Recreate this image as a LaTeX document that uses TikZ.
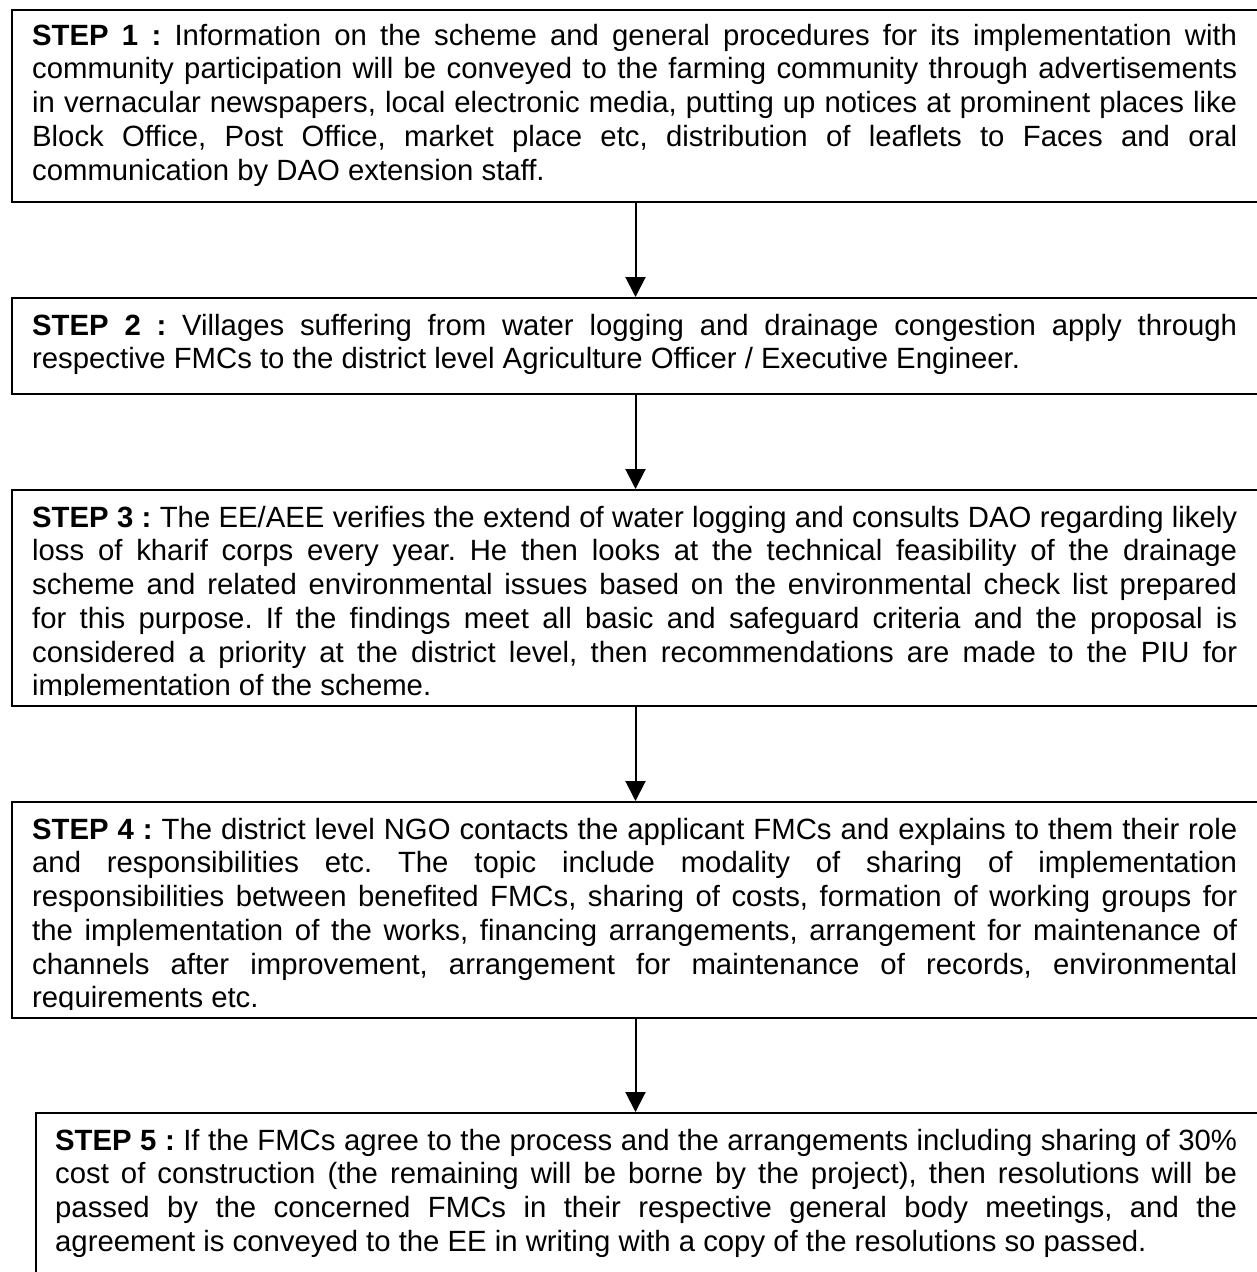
\documentclass[tikz,border=0pt]{standalone}
\usepackage{fontspec}
\setmainfont{Liberation Sans}
\usetikzlibrary{arrows.meta}
\usetikzlibrary{positioning}

\hyphenpenalty=10000
\tolerance=10000
\frenchspacing

\newcommand{\steplabel}[1]{\textbf{STEP #1 :}}

\tikzset{
  stepbox/.style={draw, line width=2pt, anchor=north west, inner sep=0pt},
  steptext/.style={anchor=base west, inner sep=0pt, align=justify, font=\fontsize{29.3}{33.75}\selectfont\frenchspacing},
  flow/.style={-{Triangle[length=20pt,width=20pt]}, line width=2pt}
}

\begin{document}
\begin{tikzpicture}[x=1pt,y=-1pt]
                \useasboundingbox (0,0) rectangle (1257,1272);

                \node[stepbox, minimum width=1247pt, minimum height=192pt] (box1) at (11,9) {};
                \node[stepbox, minimum width=1247pt, minimum height=96pt] (box2) at (11,297) {};
                \node[stepbox, minimum width=1247pt, minimum height=216pt] (box3) at (11,489) {};
                \node[stepbox, minimum width=1247pt, minimum height=216pt] (box4) at (11,801) {};
                \node[stepbox, minimum width=1240pt, minimum height=180pt] (box5) at (35,1112) {};

                \node[steptext, text width=1205pt] (txt1) at ([shift={(21,36)}]box1.north west) {\steplabel{1} Information on the scheme and general procedures for its implementation with\linebreak community participation will be conveyed to the farming community through advertisements\linebreak in vernacular newspapers, local electronic media, putting up notices at prominent places like\linebreak Block Office, Post Office, market place etc, distribution of leaflets to Faces and oral\linebreak communication by DAO extension staff.};
                \node[steptext, text width=1205pt] (txt2) at ([shift={(21,38)}]box2.north west) {\steplabel{2} Villages suffering from water logging and drainage congestion apply through\linebreak respective FMCs to the district level Agriculture Officer / Executive Engineer.};
                \begin{scope}
                \clip (box3.north west) rectangle ([shift={(0,-12)}]box3.south east);
                \node[steptext, text width=1205pt] (txt3) at ([shift={(21,38)}]box3.north west) {\steplabel{3} The EE/AEE verifies the extend of water logging and consults DAO regarding likely\linebreak loss of kharif corps every year. He then looks at the technical feasibility of the drainage\linebreak scheme and related environmental issues based on the environmental check list prepared\linebreak for this purpose. If the findings meet all basic and safeguard criteria and the proposal is\linebreak considered a priority at the district level, then recommendations are made to the PIU for\linebreak implementation of the scheme.};
                \end{scope}
                \begin{scope}
                \clip (box4.north west) rectangle ([shift={(0,-10)}]box4.south east);
                \node[steptext, text width=1205pt] (txt4) at ([shift={(21,38)}]box4.north west) {\steplabel{4} The district level NGO contacts the applicant FMCs and explains to them their role\linebreak and responsibilities etc. The topic include modality of sharing of implementation\linebreak responsibilities between benefited FMCs, sharing of costs, formation of working groups for\linebreak the implementation of the works, financing arrangements, arrangement for maintenance of\linebreak channels after improvement, arrangement for maintenance of records, environmental\linebreak requirements etc.};
                \end{scope}
                \node[steptext, text width=1182pt] (txt5) at ([shift={(20,38)}]box5.north west) {\steplabel{5} If the FMCs agree to the process and the arrangements including sharing of 30\%\linebreak cost of construction (the remaining will be borne by the project), then resolutions will be\linebreak passed by the concerned FMCs in their respective general body meetings, and the\linebreak agreement is conveyed to the EE in writing with a copy of the resolutions so passed.};

                \draw[flow] (box1) -- (box2);
                \draw[flow] (box2) -- (box3);
                \draw[flow] (box3) -- (box4);
                \draw[flow] (box4.south) -- (box4.south |- box5.north);
\end{tikzpicture}
\end{document}
